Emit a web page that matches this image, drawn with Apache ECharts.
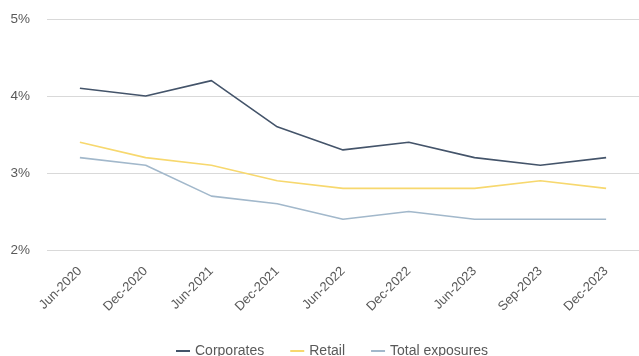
<!DOCTYPE html>
<html>
<head>
<meta charset="utf-8">
<script src="https://cdn.jsdelivr.net/npm/echarts@6/dist/echarts.min.js"></script>
<style>html,body{margin:0;padding:0;background:#fff;}#c{width:639px;height:356px;}</style>
</head>
<body>
<div id="c"></div>
<script>
const categories = ["Jun-2020","Dec-2020","Jun-2021","Dec-2021","Jun-2022","Dec-2022","Jun-2023","Sep-2023","Dec-2023"];
const corporates = [4.1, 4.0, 4.2, 3.6, 3.3, 3.4, 3.2, 3.1, 3.2];
const retail = [3.4, 3.2, 3.1, 2.9, 2.8, 2.8, 2.8, 2.9, 2.8];
const totalExposures = [3.2, 3.1, 2.7, 2.6, 2.4, 2.5, 2.4, 2.4, 2.4];
const yTicks = [2, 3, 4, 5];

const chart = echarts.init(document.getElementById('c'));
const font = '"Liberation Sans", Arial, sans-serif';
function line(name, data, color) {
  return {name, type:'line', data, symbol:'none', smooth:false,
    lineStyle:{color, width:1.6}, itemStyle:{color}};
}
chart.setOption({
  animation:false,
  textStyle:{fontFamily:font},
  grid:{left:47, right:-5, top:19, bottom:106, containLabel:false},
  legend:{bottom:-7, left:171, itemWidth:14, itemHeight:2, itemGap:26, icon:'rect',
    textStyle:{color:'#595959', fontSize:14, fontFamily:font},
    data:['Corporates','Retail','Total exposures']},
  xAxis:{type:'category', data:categories, boundaryGap:true,
    axisLine:{show:false}, axisTick:{show:false},
    axisLabel:{rotate:45, color:'#595959', fontSize:13, margin:19, fontFamily:font, interval:0}},
  yAxis:{type:'value', min:yTicks[0], max:yTicks[yTicks.length-1], interval:1,
    axisLine:{show:false}, axisTick:{show:false},
    splitLine:{lineStyle:{color:'#d9d9d9', width:1}},
    axisLabel:{formatter:v=>v+'%', color:'#595959', fontSize:13.5, margin:17, fontFamily:font}},
  series:[
    line('Corporates', corporates, '#44546A'),
    line('Retail', retail, '#F7D86E'),
    line('Total exposures', totalExposures, '#A2B8CB')
  ]
});
</script>
</body>
</html>
